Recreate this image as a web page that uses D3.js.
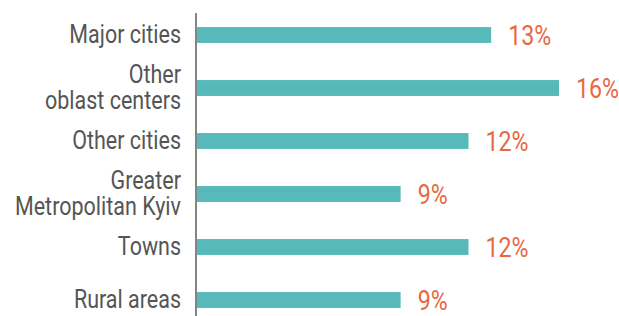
<!DOCTYPE html>
<html>
  <head>
    <script src="https://d3js.org/d3.v7.min.js"></script>
    <style>
      body { margin: 0; background: #fff; }
    </style>
  </head>
  <body>
    <script>

    // categories (each entry is the label lines)
    var categories = [
      ["Major cities"],
      ["Other", "oblast centers"],
      ["Other cities"],
      ["Greater", "Metropolitan Kyiv"],
      ["Towns"],
      ["Rural areas"]
    ];
    // share, percent
    var values = [13, 16, 12, 9, 12, 9];

    var w = 619, h = 316;
    var axisX = 196;
    var squeeze = 0.86; // narrow the font to look condensed

    var svg = d3.select("body").append("svg")
      .attr("width", w)
      .attr("height", h);

    var x = d3.scaleLinear().domain([0, 16]).range([axisX + 1, 559]);
    var y = d3.scaleBand()
      .domain(d3.range(categories.length))
      .range([8.5, 326.5])
      .paddingInner(0.7)
      .paddingOuter(0.35);

    // bars
    svg.selectAll("rect.bar")
      .data(values)
      .enter()
      .append("rect")
      .attr("class", "bar")
      .attr("x", x(0))
      .attr("y", function(d, i) { return y(i); })
      .attr("width", function(d) { return x(d) - x(0); })
      .attr("height", y.bandwidth())
      .attr("fill", "#58b9bb");

    // vertical axis line
    svg.append("line")
      .attr("x1", axisX).attr("x2", axisX)
      .attr("y1", 13).attr("y2", h)
      .attr("stroke", "#666")
      .attr("stroke-width", 1.6);

    // category labels
    var labels = svg.selectAll("g.cat")
      .data(categories)
      .enter()
      .append("g")
      .attr("class", "cat")
      .attr("transform", function(d, i) {
        return "translate(181," + (y(i) + y.bandwidth() / 2) + ") scale(" + squeeze + ",1)";
      });

    labels.selectAll("text")
      .data(function(d) { return d; })
      .enter()
      .append("text")
      .attr("text-anchor", "end")
      .attr("y", function(d, j, nodes) {
        return nodes.length === 1 ? 8 : (j === 0 ? -5 : 20.5);
      })
      .attr("font-family", "Roboto, sans-serif")
      .attr("font-size", "25px")
      .attr("fill", "#555")
      .text(function(d) { return d; });

    // value labels
    svg.selectAll("g.val")
      .data(values)
      .enter()
      .append("g")
      .attr("class", "val")
      .attr("transform", function(d, i) {
        return "translate(" + (x(d) + 17) + "," + (y(i) + y.bandwidth() / 2 + 10) + ") scale(" + squeeze + ",1)";
      })
      .append("text")
      .attr("font-family", "Roboto, sans-serif")
      .attr("font-size", "27px")
      .attr("fill", "#e8693f")
      .text(function(d) { return d + "%"; });

    </script>
  </body>
</html>
